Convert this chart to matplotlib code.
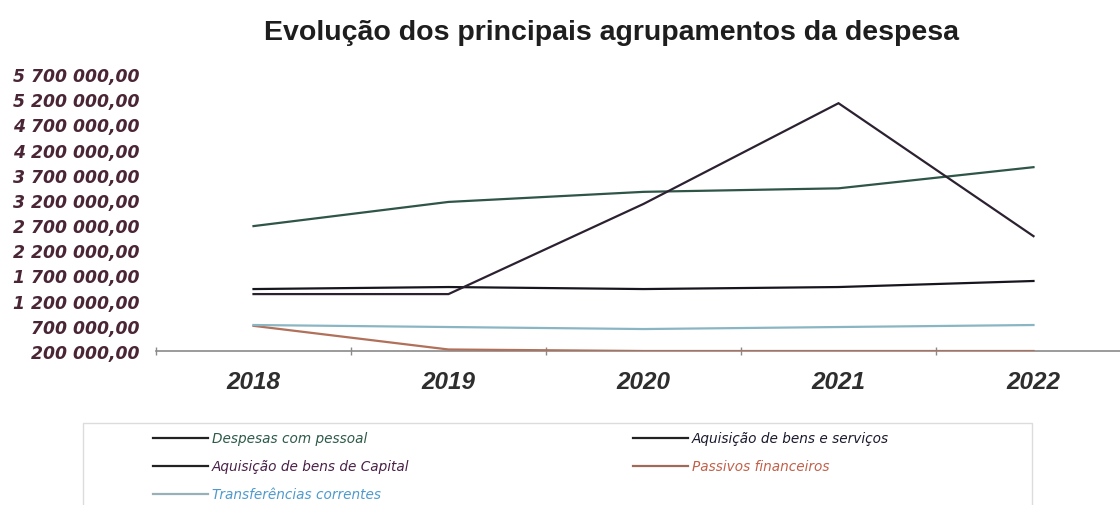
import matplotlib
matplotlib.use("Agg")
import numpy as np
import matplotlib.pyplot as plt
from matplotlib.lines import Line2D
from matplotlib.patches import Rectangle
from matplotlib.ticker import FuncFormatter, FixedLocator

# dados (euros)
anos = ["2018", "2019", "2020", "2021", "2022"]
despesas_pessoal = [2680000, 3160000, 3360000, 3430000, 3850000]
bens_servicos = [1430000, 1470000, 1430000, 1470000, 1590000]
bens_capital = [1330000, 1330000, 3120000, 5120000, 2480000]
passivos_fin = [700000, 230000, 200000, 200000, 200000]
transferencias = [716000, 676000, 636000, 676000, 716000]

nomes = ["Despesas com pessoal", "Aquisição de bens e serviços",
         "Aquisição de bens de Capital", "Passivos financeiros",
         "Transferências correntes"]
series = [despesas_pessoal, bens_servicos, bens_capital, passivos_fin, transferencias]
cores_linha = ["#2f5547", "#16161f", "#2c2130", "#b0705a", "#8ab6c4"]
cores_legenda_linha = ["#222222", "#222222", "#222222", "#a06a58", "#9ab0b8"]
cores_texto = ["#2e5a48", "#1a1a2e", "#4a2048", "#c0604a", "#4f9acb"]

fig = plt.figure(figsize=(11.2, 5.06), dpi=100)
W, H = 1120, 506

ax = fig.add_axes([156 / W, 1 - 352 / H, 975 / W, 277 / H])
x = range(len(anos))
for vals, cor in zip(series, cores_linha):
    ax.plot(x, vals, color=cor, linewidth=1.6, solid_joinstyle="miter", zorder=3)

ax.set_xlim(-0.5, len(anos) - 0.5)
ax.set_ylim(200000, 5700000)
ax.yaxis.set_major_locator(FixedLocator(np.arange(200000, 5700001, 500000)))
ax.yaxis.set_major_formatter(FuncFormatter(
    lambda v, p: f"{v:,.2f}".replace(",", " ").replace(".", ",")))

for s in ["top", "right", "left"]:
    ax.spines[s].set_visible(False)
ax.spines["bottom"].set_color("#8a8a8a")
ax.spines["bottom"].set_linewidth(1.2)

ax.tick_params(axis="y", length=0, pad=12, labelsize=12.4, labelcolor="#4a2535")
for lbl in ax.get_yticklabels():
    lbl.set_fontfamily("DejaVu Sans")
    lbl.set_fontweight("bold")
    lbl.set_fontstyle("italic")

# anos no centro das categorias, marcas nas divisões
ax.set_xticks(list(x))
ax.set_xticklabels(anos, fontfamily="Liberation Sans", fontweight="bold",
                   fontstyle="italic", fontsize=17.5, color="#2e2e2e")
ax.tick_params(axis="x", length=0, pad=14)
ax.set_xticks([i - 0.5 for i in range(len(anos) + 1)], minor=True)
ax.tick_params(axis="x", which="minor", length=6, width=1, color="#8a8a8a",
               direction="inout")

fig.text(611 / W, 1 - 33 / H, "Evolução dos principais agrupamentos da despesa",
         ha="center", va="center", fontsize=20.5, fontweight="bold",
         fontfamily="Liberation Sans", color="#1e1e1e")

# legenda
fig.add_artist(Rectangle((83 / W, -0.05), (1032 - 83) / W, 0.05 + (506 - 424) / H,
                         transform=fig.transFigure, fill=False,
                         edgecolor="#dcdcdc", linewidth=1))
posicoes = [(153, 439), (633, 439), (153, 467), (633, 467), (153, 495)]
for (px, py), nome, cl, ct in zip(posicoes, nomes, cores_legenda_linha, cores_texto):
    yy = 1 - py / H
    fig.add_artist(Line2D([px / W, (px + 55) / W], [yy, yy],
                          transform=fig.transFigure, color=cl, linewidth=1.6))
    fig.text((px + 59) / W, yy, nome, ha="left", va="center", fontsize=9.8,
             fontfamily="DejaVu Sans", fontstyle="italic", color=ct)

fig.savefig("out.png", dpi=100)
